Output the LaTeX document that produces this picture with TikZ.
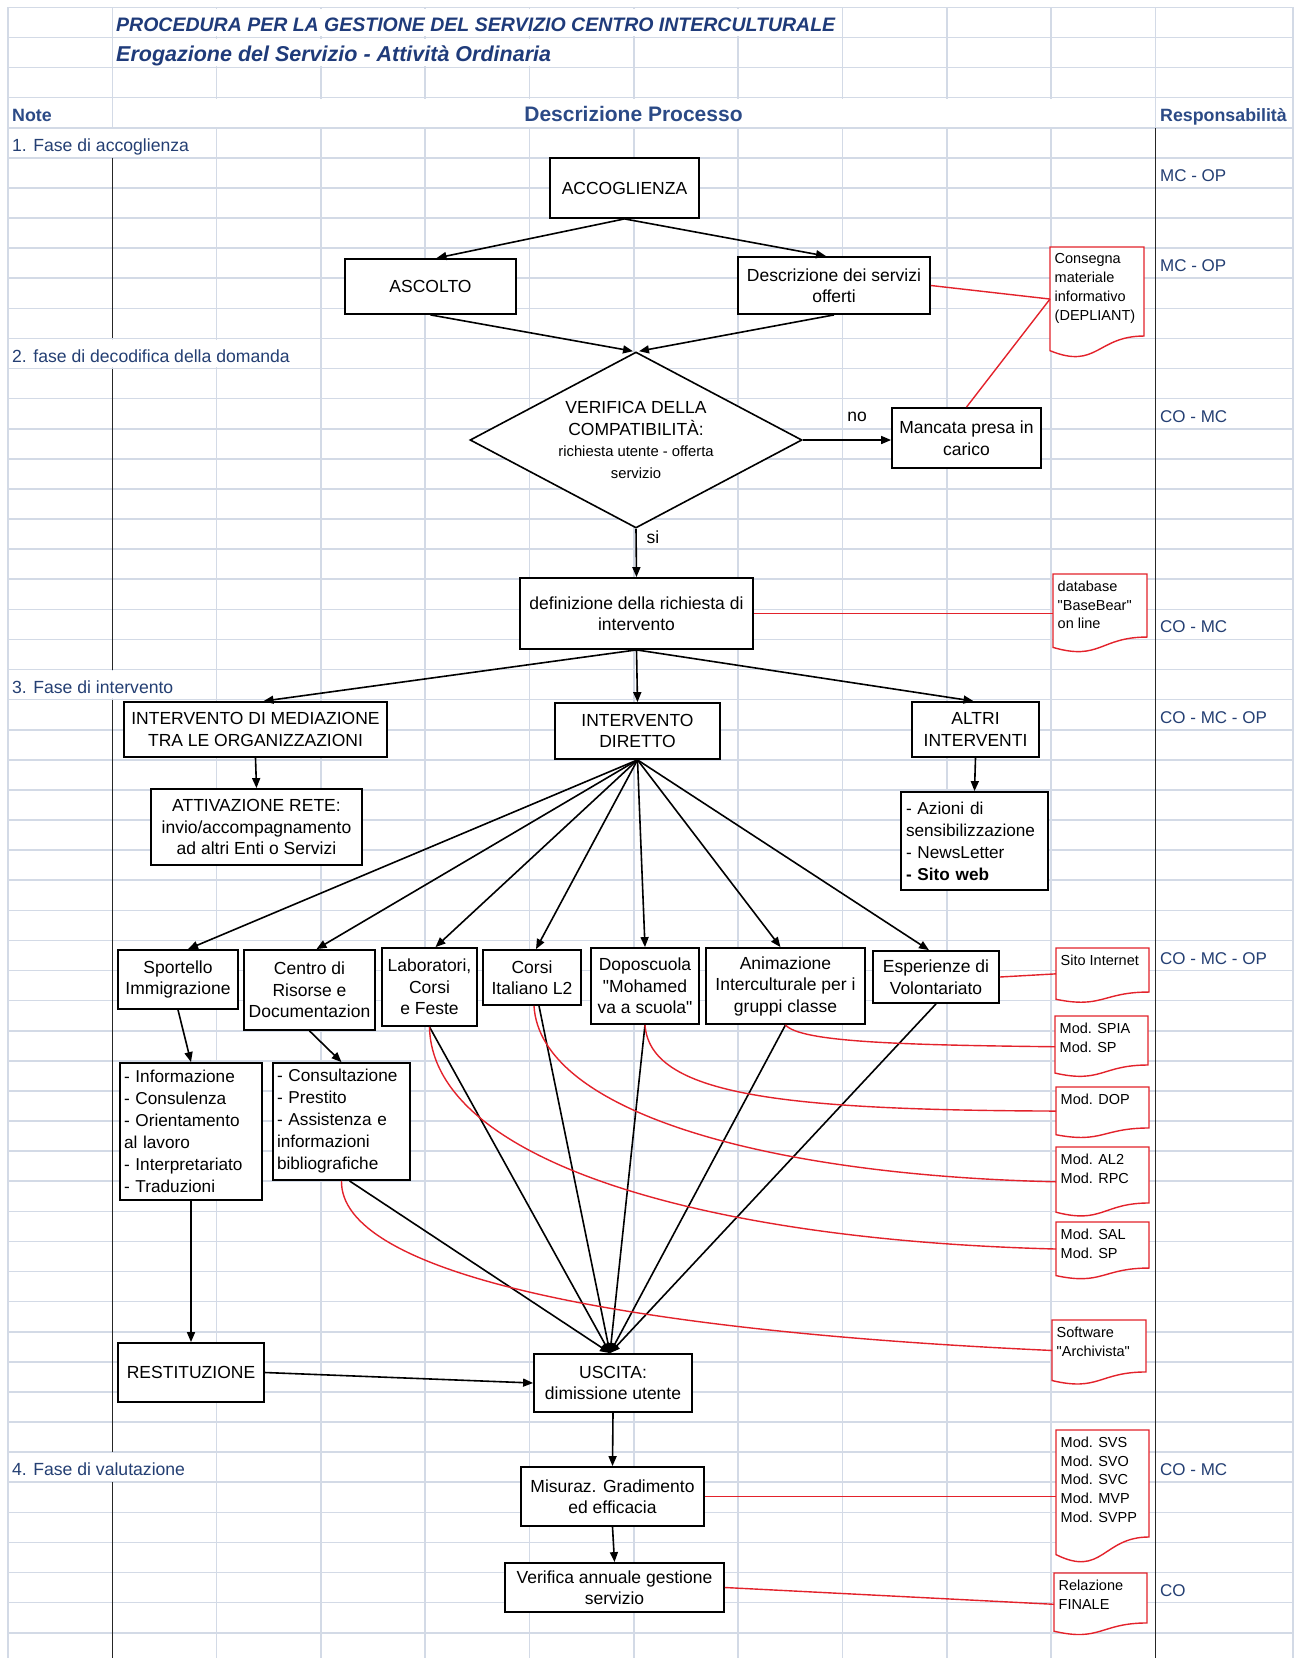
\documentclass[tikz,border=0pt]{standalone}
\usepackage{fontspec}
\setmainfont{Liberation Sans}
\usetikzlibrary{arrows.meta,shapes.geometric,calc}
\definecolor{gridc}{HTML}{D3DAE6}
\definecolor{navy}{HTML}{1F3B7A}
\definecolor{hdr}{HTML}{2B4A86}
\definecolor{lbl}{HTML}{243F73}
\definecolor{docred}{HTML}{E3222B}
\newcommand{\boxf}{\fontsize{17.5}{21.5}\selectfont}
\newcommand{\listf}{\fontsize{17.2}{22}\selectfont\hyphenpenalty=10000 }
\newcommand{\docf}{\fontsize{14.5}{18.8}\selectfont}
\newcommand{\smallf}{\fontsize{14.8}{20}\selectfont}
\newcommand{\phf}{\fontsize{17.6}{20}\selectfont}
\newcommand{\rsf}{\fontsize{17}{20}\selectfont}
\newcommand{\titf}{\fontsize{19.5}{22}\selectfont\bfseries\itshape}
\newcommand{\subf}{\fontsize{21.5}{24}\selectfont\bfseries\itshape}
\newcommand{\hdf}{\fontsize{17.8}{20}\selectfont\bfseries}
\newcommand{\descf}{\fontsize{21}{24}\selectfont\bfseries}
\newcommand{\qq}{\textquotedbl}
\newcommand{\hidev}[2]{\fill[white] ({8+104.3*#1-2.2},{7.3+30.1*#2+1.2}) rectangle ({8+104.3*#1+2.2},{7.3+30.1*(#2+1)-1.2});}
\newcommand{\docshape}[6]{%
  \draw[docline, fill=white] (#2,#3) -- (#4,#3) -- (#4,{#3+0.802*#5})
     .. controls ({(#2+#4)/2},{#3+0.802*#5}) and ({(#2+#4)/2},{#3+1.1075*#5}) .. (#2,{#3+0.934*#5}) -- cycle;
  \node[anchor=north west, minimum width={#4-#2}, minimum height={0.934*#5}, inner sep=0pt] (#1) at (#2,#3) {};
  \node[doctext, anchor=north west] (#1t) at ({#2+4.5},{#3+6.5}) {#6};
}
\begin{document}
\begin{tikzpicture}[x=1pt,y=-1pt,
  gridline/.style={draw=gridc, line width=1.6pt},
  blk/.style={draw=black!85, line width=1.4pt},
  box/.style={draw=black, line width=1.8pt, fill=white, align=center, inner sep=2pt, font=\boxf},
  listbox/.style={box, align=left, font=\listf, inner xsep=4pt},
  arr/.style={draw=black, line width=1.6pt, -{Triangle[length=10pt,width=8pt]}},
  redl/.style={draw=docred, line width=1.4pt},
  docline/.style={draw=docred, line width=1.4pt},
  doctext/.style={align=left, inner sep=0pt, font=\docf},
  phase/.style={anchor=base west, inner sep=0pt, font=\phf, text=lbl},
  resp/.style={anchor=base west, inner sep=0pt, font=\rsf, text=lbl},
  hd/.style={anchor=base west, inner sep=0pt, text=hdr, font=\hdf},
]
\useasboundingbox (0,0) rectangle (1301,1658);
\fill[white] (0,0) rectangle (1301,1658);

% ---------- spreadsheet grid ----------
\foreach \k in {0,...,54} { \draw[gridline] (8,{7.3+30.1*\k}) -- (1293,{7.3+30.1*\k}); }
\foreach \j in {0,...,11} { \draw[gridline] ({8+104.3*\j},7.3) -- ({8+104.3*\j},1658); }
\draw[gridline] (1293,7.3) -- (1293,1658);
\foreach \j in {2,...,7} {\hidev{\j}{0}}
\foreach \j in {2,...,5} {\hidev{\j}{1}}
\foreach \j in {2,...,10} {\hidev{\j}{3}}
\hidev{1}{4} \hidev{1}{11} \hidev{2}{11} \hidev{1}{22} \hidev{1}{48}

% ---------- black column separators ----------
\draw[blk] (112.3,157.8) -- (112.3,338.4);
\draw[blk] (112.3,368.5) -- (112.3,669.5);
\draw[blk] (112.3,699.6) -- (112.3,1452.1);
\draw[blk] (112.3,1482.2) -- (112.3,1658);
\draw[blk] (1155.3,127.7) -- (1155.3,1658);

% ---------- headings ----------
\node[anchor=base west, inner sep=0pt, text=navy, font=\titf] (title) at (116,31.1) {PROCEDURA PER LA GESTIONE DEL SERVIZIO CENTRO INTERCULTURALE};
\node[anchor=base west, inner sep=0pt, text=navy, font=\subf] (subtitle) at (116,61.2) {Erogazione del Servizio - Attività Ordinaria};
\node[hd] (note) at (12,121.4) {Note};
\node[anchor=base, inner sep=0pt, text=hdr, font=\descf] (descr) at (633.5,121.4) {Descrizione Processo};
\node[hd] (respo) at (1160,121.4) {Responsabilità};

\node[phase] (p1) at (12,151.5) {1. Fase di accoglienza};
\node[phase] (p2) at (12,362.2) {2. fase di decodifica della domanda};
\node[phase] (p3) at (12,693.3) {3. Fase di intervento};
\node[phase] (p4) at (12,1475.9) {4. Fase di valutazione};

\node[resp] (r1) at (1160,181.5) {MC - OP};
\node[resp] (r2) at (1160,271.7) {MC - OP};
\node[resp] (r3) at (1160,422.2) {CO - MC};
\node[resp] (r4) at (1160,632.9) {CO - MC};
\node[resp] (r5) at (1160,723.2) {CO - MC - OP};
\node[resp] (r6) at (1160,964) {CO - MC - OP};
\node[resp] (r7) at (1160,1475.7) {CO - MC};
\node[resp] (r8) at (1160,1596.1) {CO};

% ---------- documents ----------
\docshape{d1}{1050}{247}{1144}{111}{Consegna\\materiale\\informativo\\(DEPLIANT)}
\docshape{d2}{1053}{574}{1147}{78.6}{database\\\qq BaseBear\qq\\on line}
\docshape{d3}{1056}{948}{1149}{54.9}{Sito Internet}
\docshape{d4}{1055}{1016}{1148}{61.1}{Mod. SPIA\\Mod. SP}
\docshape{d5}{1056}{1087}{1149}{51.1}{Mod. DOP}
\docshape{d6}{1056}{1147}{1149}{69.8}{Mod. AL2\\Mod. RPC}
\docshape{d7}{1056}{1222}{1149}{57.4}{Mod. SAL\\Mod. SP}
\docshape{d8}{1052}{1320}{1146}{64.8}{Software\\\qq Archivista\qq}
\docshape{d9}{1056}{1430}{1149}{133.4}{Mod. SVS\\Mod. SVO\\Mod. SVC\\Mod. MVP\\Mod. SVPP}
\docshape{d10}{1054}{1573}{1147}{62.3}{Relazione\\FINALE}

% ---------- process boxes ----------
\node[box, minimum width=149, minimum height=60] (acc) at (624.5,188) {ACCOGLIENZA};
\node[box, minimum width=171, minimum height=55] (asc) at (430.5,286.5) {ASCOLTO};
\node[box, minimum width=192, minimum height=57] (des) at (834,285.5) {Descrizione dei servizi\\offerti};
\node[diamond, draw=black, line width=1.6pt, fill=white, minimum width=332, minimum height=176,
      inner sep=0pt, aspect=1.9, align=center, font=\boxf] (ver) at (636,440)
      {VERIFICA DELLA\\COMPATIBILITÀ:\\{\smallf richiesta utente - offerta}\\{\smallf servizio}};
\node[box, minimum width=149, minimum height=60] (man) at (966.5,438) {Mancata presa in\\carico};
\node[box, minimum width=233, minimum height=71] (def) at (636.5,613.5) {definizione della richiesta di\\intervento};
\node[box, minimum width=263, minimum height=55] (med) at (255.5,729.5) {INTERVENTO DI MEDIAZIONE\\TRA LE ORGANIZZAZIONI};
\node[box, minimum width=165, minimum height=56] (dir) at (637.5,731) {INTERVENTO\\DIRETTO};
\node[box, minimum width=127, minimum height=55] (alt) at (975.5,729.5) {ALTRI\\INTERVENTI};
\node[box, minimum width=211, minimum height=76] (att) at (256.5,827) {ATTIVAZIONE RETE:\\invio/accompagnamento\\ad altri Enti o Servizi};
\node[listbox, inner xsep=5pt, text width=137, minimum height=98] (azi) at (974.5,841) {- Azioni di\\sensibilizzazione\\- NewsLetter\\\textbf{- Sito web}};

\node[box, minimum width=120, minimum height=59] (spo) at (178,979.5) {Sportello\\Immigrazione};
\node[box, minimum width=131, minimum height=80] (cen) at (309.5,990) {Centro di\\Risorse e\\Documentazion};
\node[box, minimum width=95, minimum height=78] (lab) at (429.5,987) {Laboratori,\\Corsi\\e Feste};
\node[box, minimum width=98, minimum height=55] (cor) at (532,977.5) {Corsi\\Italiano L2};
\node[box, minimum width=108, minimum height=76] (dop) at (645,986) {Doposcuola\\\qq Mohamed\\va a scuola\qq};
\node[box, minimum width=159, minimum height=76] (ani) at (785.5,986) {Animazione\\Interculturale per i\\gruppi classe};
\node[box, minimum width=126, minimum height=52] (esp) at (936,977) {Esperienze di\\Volontariato};

\node[listbox, text width=134, minimum height=137] (spl) at (191,1131.5) {- Informazione\\- Consulenza\\- Orientamento\\al lavoro\\- Interpretariato\\- Traduzioni};
\node[listbox, text width=129, minimum height=117] (cel) at (341.5,1121.5) {- Consultazione\\- Prestito\\- Assistenza e\\informazioni\\bibliografiche};

\node[box, minimum width=146, minimum height=59] (res) at (191,1372.5) {RESTITUZIONE};
\node[box, minimum width=158, minimum height=58] (usc) at (613,1383) {USCITA:\\dimissione utente};
\node[box, minimum width=183, minimum height=59] (mis) at (612.5,1496.5) {Misuraz. Gradimento\\ed efficacia};
\node[box, minimum width=219, minimum height=49] (vera) at (614.5,1587.5) {Verifica annuale gestione\\servizio};

% ---------- black connectors ----------
\draw[arr] (acc.south) -- ([xshift=6pt]asc.north);
\draw[arr] (acc.south) -- ([xshift=-8pt]des.north);
\draw[arr] (asc.south) -- ([xshift=-3pt]ver.north);
\draw[arr] (des.south) -- ([xshift=3pt]ver.north);
\draw[arr] (ver.east) -- (ver.east -| man.west);
\node[inner sep=0pt, font=\boxf] (nolab) at (857,417) {no};
\draw[arr] (ver.south) -- (def.north);
\node[inner sep=0pt, font=\boxf] (silab) at (653,537) {si};
\draw[arr] (def.south) -- ([xshift=8pt]med.north);
\draw[arr] (def.south) -- (dir.north);
\draw[arr] (def.south) -- ([xshift=-2pt]alt.north);
\draw[arr] (med.south) -- (att.north);
\draw[arr] (alt.south) -- (azi.north);
\foreach \n/\s in {spo/10, cen/7, lab/6, cor/4, dop/0, ani/-5, esp/-7}
  { \draw[arr] (dir.south) -- ([xshift=\s]\n.north); }
\draw[arr] (spo.south) -- (spl.north);
\draw[arr] (cen.south) -- (cel.north);
\draw[arr] (spl.south) -- (res.north);
\draw[arr] (res.east) -- (usc.west);
\foreach \n/\s in {cel/8, lab/0, cor/7, dop/0, ani/0, esp/0}
  { \draw[arr] ([xshift=\s]\n.south) -- ([xshift=-3pt]usc.north); }
\draw[arr] (usc.south) -- (mis.north);
\draw[arr] (mis.south) -- (vera.north);

% ---------- red links ----------
\draw[redl] (des.east) -- (d1.west);
\draw[redl] (man.north) -- (d1.west);
\draw[redl] (def.east) -- (def.east -| d2.west);
\draw[redl] (esp.east) -- (d3.west);
\draw[redl] (ani.south) .. controls (800,1042) and (900,1045) .. ([yshift=-2pt]d4.west);
\draw[redl] (dop.south) .. controls (650,1095) and (780,1110) .. (d5.west);
\draw[redl] ([xshift=2pt]cor.south) .. controls (540,1110) and (760,1175) .. ([yshift=-2pt]d6.west);
\draw[redl] (lab.south) .. controls (432,1160) and (700,1240) .. (d7.west);
\draw[redl] (cel.south) .. controls (340,1270) and (600,1330) .. (d8.west);
\draw[redl] (mis.east) -- (mis.east -| d9.west);
\draw[redl] (vera.east) -- ([yshift=-2pt]d10.west);
\end{tikzpicture}
\end{document}
